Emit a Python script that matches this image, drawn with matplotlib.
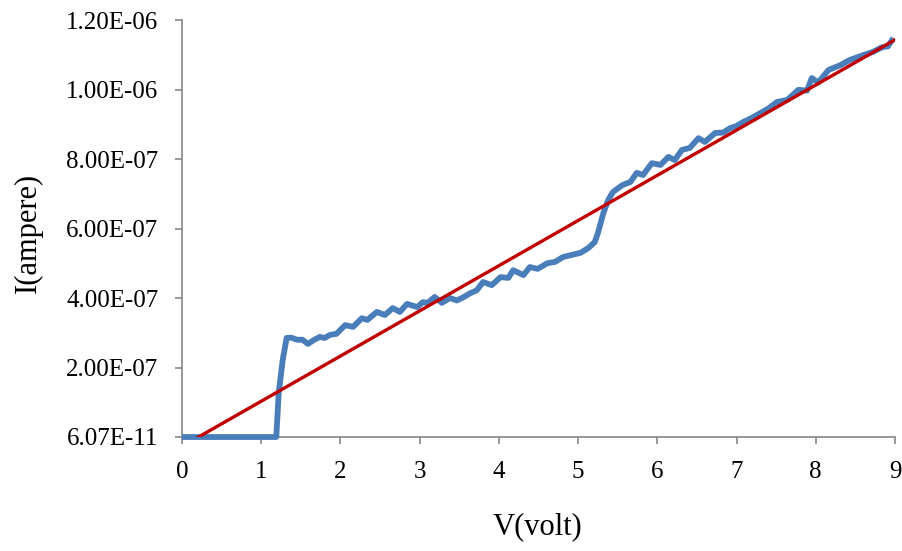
import numpy as np
import matplotlib
matplotlib.use("Agg")
import matplotlib.pyplot as plt

# measured I-V curve (volt, 1e-7 ampere)
volt = [0, 1.13, 1.19, 1.22, 1.27, 1.32, 1.38, 1.45, 1.52, 1.59, 1.67, 1.74, 1.80,
        1.87, 1.95, 2.06, 2.16, 2.27, 2.34, 2.46, 2.56, 2.66, 2.75, 2.84, 2.97,
        3.04, 3.10, 3.19, 3.28, 3.38, 3.47, 3.55, 3.64, 3.72, 3.80, 3.91, 4.02,
        4.12, 4.18, 4.31, 4.39, 4.49, 4.61, 4.71, 4.81, 4.92, 5.03, 5.13, 5.21,
        5.25, 5.32, 5.38, 5.44, 5.56, 5.66, 5.74, 5.82, 5.93, 6.04, 6.14, 6.22,
        6.31, 6.41, 6.52, 6.60, 6.73, 6.83, 6.92, 7.00, 7.08, 7.19, 7.30, 7.40,
        7.51, 7.64, 7.78, 7.89, 7.95, 8.03, 8.16, 8.31, 8.43, 8.60, 8.72, 8.84,
        8.91, 8.98]
amp = [0, 0, 0, 1.25, 2.2, 2.85, 2.86, 2.80, 2.80, 2.68, 2.80, 2.88, 2.85,
       2.94, 2.97, 3.22, 3.17, 3.42, 3.37, 3.60, 3.51, 3.71, 3.60, 3.83, 3.74,
       3.88, 3.86, 4.03, 3.86, 4.00, 3.93, 4.02, 4.14, 4.22, 4.46, 4.37, 4.60,
       4.58, 4.80, 4.66, 4.89, 4.84, 5.00, 5.04, 5.18, 5.24, 5.30, 5.44, 5.61,
       5.87, 6.45, 6.82, 7.05, 7.25, 7.34, 7.60, 7.54, 7.88, 7.83, 8.06, 7.97,
       8.26, 8.32, 8.60, 8.49, 8.75, 8.76, 8.89, 8.95, 9.06, 9.18, 9.32, 9.45,
       9.64, 9.70, 9.99, 9.97, 10.33, 10.20, 10.56, 10.70, 10.85, 10.99, 11.08,
       11.22, 11.24, 11.48]

# linear trendline
slope = 1.30e-7
intercept = -2.7e-8

yticks = [6.07e-11, 2e-7, 4e-7, 6e-7, 8e-7, 1e-6, 1.2e-6]
ytick_labels = ["6.07E-11", "2.00E-07", "4.00E-07", "6.00E-07", "8.00E-07",
                "1.00E-06", "1.20E-06"]

plt.rcParams['font.family'] = ['Liberation Serif', 'DejaVu Serif']

fig = plt.figure(figsize=(9.02, 5.51), dpi=100)
ax = fig.add_axes([0.2018, 0.2069, 0.7904, 0.7568])

v = np.array(volt)
i = np.array(amp) * 1e-7
ax.plot(v, i, color="#4A7EBB", lw=4.2, solid_joinstyle="round",
        solid_capstyle="butt", clip_on=False, zorder=3)

xt = np.array([0, 9])
ax.plot(xt, slope * xt + intercept, color="#C00000", lw=2.4, zorder=4)

ax.set_xlim(0, 9)
ax.set_ylim(6.07e-11, 1.2e-6)
ax.set_xticks(range(10))
ax.set_yticks(yticks)
ax.set_yticklabels(ytick_labels)

for s in ["top", "right"]:
    ax.spines[s].set_visible(False)
for s in ["left", "bottom"]:
    ax.spines[s].set_color("#868686")
    ax.spines[s].set_linewidth(1.2)
ax.tick_params(direction="out", length=5, width=1.2, color="#868686",
               labelsize=18, pad=12)

ax.set_xlabel("V(volt)", fontsize=22)
ax.set_ylabel("I(ampere)", fontsize=22)
ax.xaxis.set_label_coords(0.498, -0.216)
ax.xaxis.label.set_va("center")
ax.yaxis.set_label_coords(-0.216, 0.489)
ax.yaxis.label.set_va("center")

fig.savefig("out.png", dpi=100)
